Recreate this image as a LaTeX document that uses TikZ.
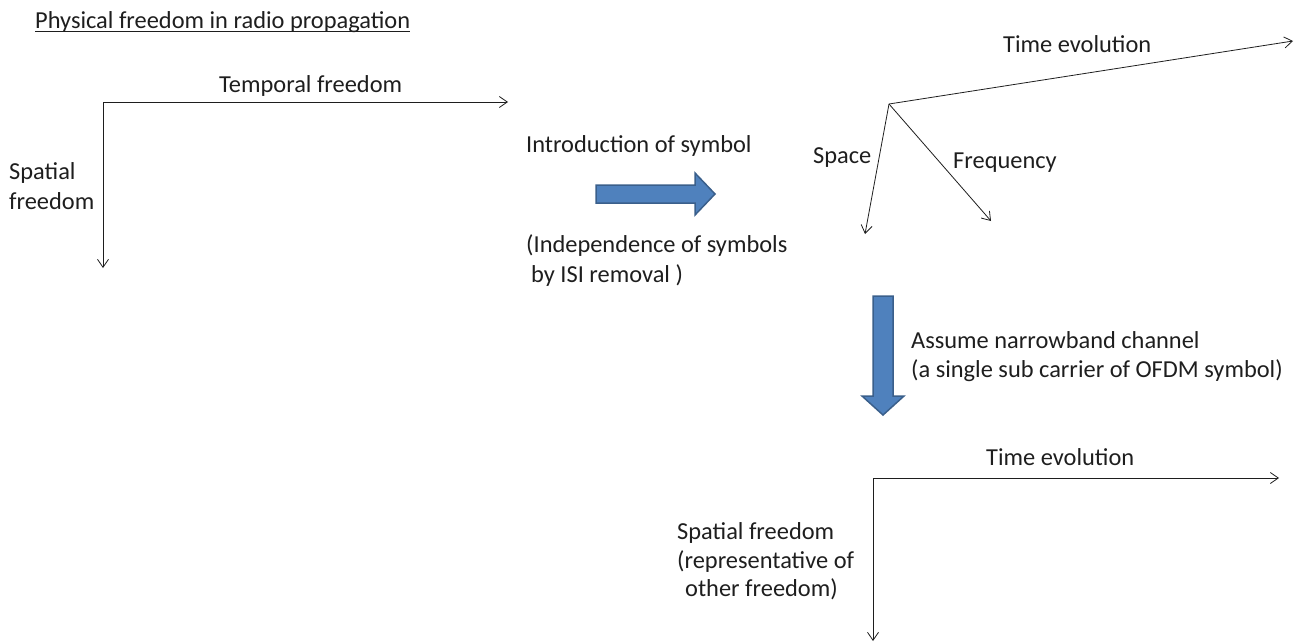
\documentclass[tikz,border=0pt]{standalone}
\usepackage{fontspec}
\setmainfont{Carlito}
\usetikzlibrary{arrows.meta}
\definecolor{inkgray}{HTML}{1E1E1E}
\definecolor{blockfill}{HTML}{4F81BD}
\definecolor{blockedge}{HTML}{3A5F8B}
\begin{document}
\begin{tikzpicture}[x=1pt,y=-1pt,
  lbl/.style={anchor=base west,inner sep=0pt,text=inkgray,font=\fontsize{24.4}{29}\selectfont},
  axis/.style={draw=inkgray,line width=0.8pt,-{Straight Barb[length=8pt,width=11pt,line width=0.8pt]}},
  blockarrow/.style={fill=blockfill,draw=blockedge,line width=1.5pt,line join=miter}]
\useasboundingbox (0,0) rectangle (1300,643);

% title
\node[lbl] (title) at (35,28) {Physical freedom in radio propagation};
\draw[inkgray,line width=1pt] ([yshift=-3.6pt]title.base west) -- ([yshift=-3.6pt]title.base east);

% two-dimensional picture: time and space
\coordinate (o1) at (103,102);
\coordinate (t1) at (508,102);
\coordinate (s1) at (103,268);
\draw[axis] (o1) -- (t1);
\draw[axis] (o1) -- (s1);
\node[lbl] (tf1) at (219,92) {Temporal freedom};
\node[lbl] (sf1a) at (9,179) {Spatial};
\node[lbl] (sf1b) at (9,209) {freedom};

% step one: symbols
\node[lbl] (intro) at (526,152) {Introduction of symbol};
\draw[blockarrow] (596,185) -- (695,185) -- (695,173) -- (715,194) -- (695,215)
  -- (695,203) -- (596,203) -- cycle;
\node[lbl] (indep1) at (526,252) {(Independence of symbols};
\node[lbl] (indep2) at (531,282) {by ISI removal )};

% three-dimensional picture: time, space, frequency
\coordinate (o2) at (889,104);
\coordinate (t2) at (1293,41);
\coordinate (s2) at (865,234);
\coordinate (f2) at (991,221);
\draw[axis] (o2) -- (t2);
\draw[axis] (o2) -- (s2);
\draw[axis] (o2) -- (f2);
\node[lbl] (te2) at (1003,52) {Time evolution};
\node[lbl] (sp2) at (813,163) {Space};
\node[lbl] (fr2) at (953,168) {Frequency};

% step two: narrowband channel
\draw[blockarrow] (873,296) -- (893,296) -- (893,396) -- (904,396) -- (883,415)
  -- (862,396) -- (873,396) -- cycle;
\node[lbl] (nb1) at (911,348) {Assume narrowband channel};
\node[lbl] (nb2) at (911,377) {(a single sub carrier of OFDM symbol)};

% reduced picture: time and space
\coordinate (o3) at (873,478);
\coordinate (t3) at (1279,478);
\coordinate (s3) at (873,641);
\draw[axis] (o3) -- (t3);
\draw[axis] (o3) -- (s3);
\node[lbl] (te3) at (986,465) {Time evolution};
\node[lbl] (sf3a) at (677,539) {Spatial freedom};
\node[lbl] (sf3b) at (677,568) {(representative of};
\node[lbl] (sf3c) at (685,596) {other freedom)};
\end{tikzpicture}
\end{document}
